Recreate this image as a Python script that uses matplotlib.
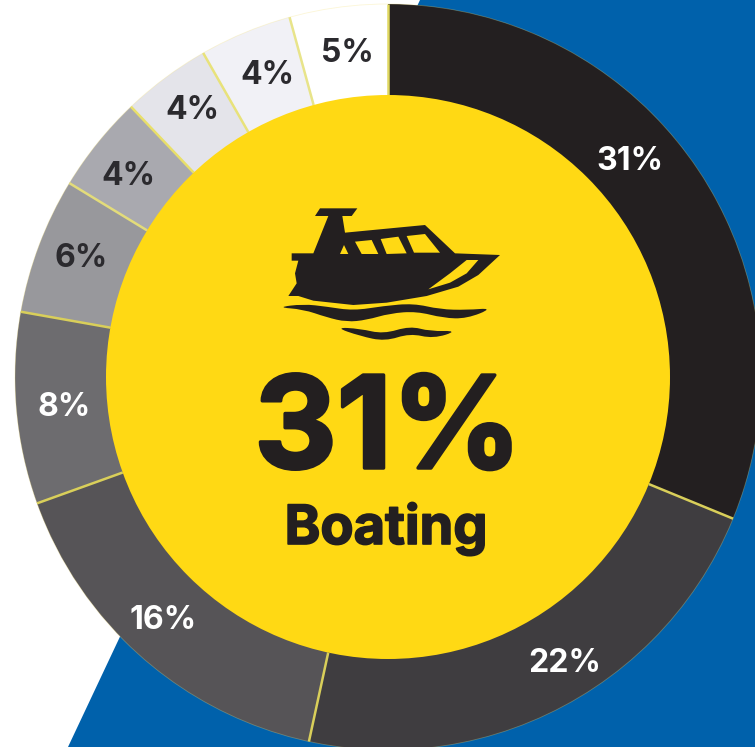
import numpy as np
import matplotlib
matplotlib.use("Agg")
import matplotlib.pyplot as plt
import matplotlib.patheffects as pe
from matplotlib.patches import Circle, Polygon, PathPatch
from matplotlib.path import Path

W, H = 755, 747
# slice sizes (printed labels are rounded)
values = [31.2, 22.2, 16.1, 8.3, 5.9, 4.2, 3.85, 4.0, 4.25]
labels = ["31%", "22%", "16%", "8%", "6%", "4%", "4%", "4%", "5%"]
colors = ["#231f20", "#3f3d40", "#565457", "#6d6c6f", "#98989c",
          "#a9a9af", "#e4e4ea", "#f1f1f6", "#ffffff"]
label_colors = ["white", "white", "white", "white", "#2b2a2e",
                "#2b2a2e", "#2b2a2e", "#2b2a2e", "#2b2a2e"]
label_pos = [(630, 158), (565, 660), (163, 617), (64, 404), (81, 255),
             (128, 173), (192, 107), (267, 72), (347, 50)]
center_value = "31%"
center_name = "Boating"

CX, CY, R_OUT, R_IN = 388, H - 377, 373, 282
FONT = "Inter"
YELLOW, INK, BLUE = "#ffd914", "#231f20", "#0061ab"

fig = plt.figure(figsize=(W / 100, H / 100), dpi=100, facecolor="white")
ax = fig.add_axes([0, 0, 1, 1])


def px(pts, ox=270, oy=190, s=3):
    """Convert zoomed icon outline coordinates to axes coordinates."""
    return [(ox + x / s, H - (oy + y / s)) for x, y in pts]


def smooth(pts):
    """Closed quadratic-spline outline through the midpoints of the given polygon."""
    p = np.array(px(pts))
    n = len(p)
    verts = [(p[-1] + p[0]) / 2]
    codes = [Path.MOVETO]
    for i in range(n):
        verts += [p[i], (p[i] + p[(i + 1) % n]) / 2]
        codes += [Path.CURVE3, Path.CURVE3]
    return Path(verts, codes)


ax.add_patch(Polygon([(68, 0), (420, H), (W, H), (W, 0)], fc=BLUE, ec="none", zorder=0))

ax.pie(values, colors=colors, startangle=90, counterclock=False,
       center=(CX, CY), radius=R_OUT, frame=True,
       wedgeprops=dict(linewidth=0), normalize=True)
ax.add_patch(Circle((CX, CY), R_OUT, fc="none", ec="#f5e27a", lw=0.6, alpha=0.3, zorder=2))

# separators between the slices
cum = np.cumsum(values)
sep_colors = ["#d9cf5a", "#d9cf5a", "#d9cf5a", "#d9cf5a", "#e3dc7a",
              "#e8df6a", "#e8e27a", "#e8e48a", "#e0d860"]
for c, col in zip(cum, sep_colors):
    a = np.pi / 2 - 2 * np.pi * c / cum[-1]
    ax.plot([CX + R_IN * np.cos(a), CX + R_OUT * np.cos(a)],
            [CY + R_IN * np.sin(a), CY + R_OUT * np.sin(a)],
            color=col, lw=1.8, solid_capstyle="butt", zorder=3)

ax.add_patch(Circle((CX, CY), R_IN, fc=YELLOW, ec="none", zorder=4))

# boat icon
hull = [(150, 55), (262, 55), (245, 78), (217, 78), (225, 128), (465, 105), (555, 190),
        (690, 195), (625, 255), (565, 290), (470, 318), (350, 338), (250, 345),
        (130, 332), (85, 318), (55, 318), (80, 280), (75, 250), (85, 212), (65, 212),
        (65, 190), (130, 190), (175, 78), (135, 78)]
windows = [
    [(210, 192), (235, 192), (222, 165)],
    [(255, 155), (305, 150), (325, 192), (275, 192)],
    [(332, 147), (385, 140), (410, 190), (350, 192)],
    [(410, 138), (465, 132), (510, 188), (432, 188)],
    [(475, 298), (540, 250), (590, 210), (625, 210), (590, 250), (540, 278)],
]
waves = [
    [(20, 352), (100, 342), (170, 350), (250, 362), (340, 348), (430, 340), (510, 358),
     (590, 360), (670, 354), (590, 386), (520, 384), (440, 364), (360, 370), (290, 390),
     (230, 396), (170, 382), (100, 358)],
    [(195, 412), (270, 416), (340, 432), (420, 408), (480, 424), (565, 422), (490, 446),
     (420, 430), (345, 454), (270, 438)],
]
ax.add_patch(Polygon(px(hull), fc=INK, ec="none", zorder=5))
for w in windows:
    ax.add_patch(Polygon(px(w), fc=YELLOW, ec="none", zorder=6))
for w in waves:
    ax.add_patch(PathPatch(smooth(w), fc=INK, ec="none", zorder=5))

for lab, col, (x, y) in zip(labels, label_colors, label_pos):
    ax.text(x, H - y, lab, color=col, ha="center", va="center_baseline", fontsize=23,
            fontweight="bold", family=FONT, zorder=7)

ax.text(388, H - 468, center_value, color=INK, ha="center", va="baseline", fontsize=92,
        fontweight="bold", family=FONT, zorder=7,
        path_effects=[pe.withStroke(linewidth=2.5, foreground=INK)])
ax.text(386, H - 544, center_name, color=INK, ha="center", va="baseline", fontsize=39,
        fontweight="bold", family=FONT, zorder=7,
        path_effects=[pe.withStroke(linewidth=1.2, foreground=INK)])

ax.set_xlim(0, W)
ax.set_ylim(0, H)
ax.set_aspect("equal")
ax.axis("off")
fig.savefig("out.png", dpi=100, facecolor="white")
